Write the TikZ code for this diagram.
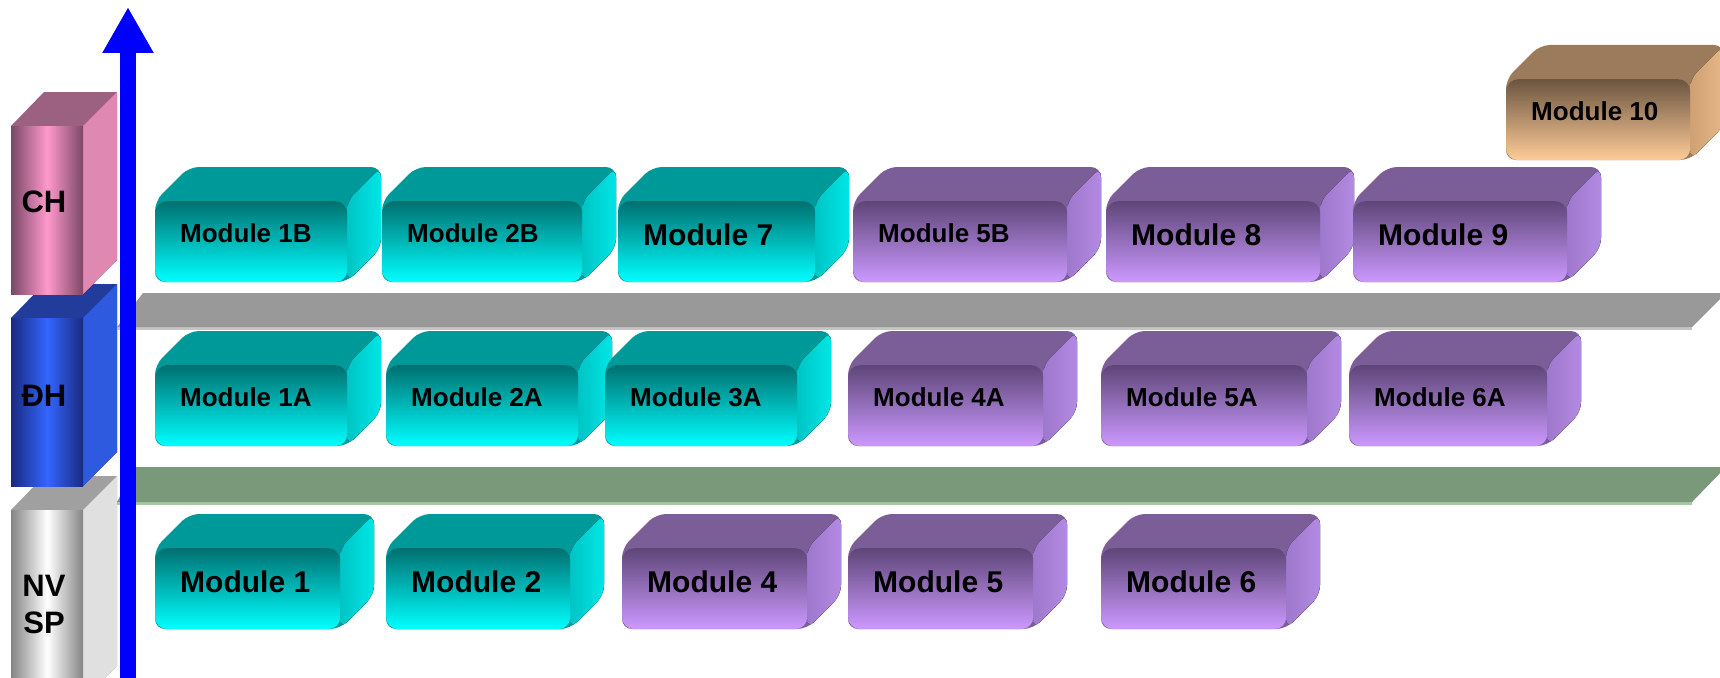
\documentclass[tikz,border=0pt]{standalone}
\usepackage{fontspec}
\setmainfont{Liberation Sans}
\usetikzlibrary{arrows.meta}

% module colours
\definecolor{tealtop}{HTML}{009999}
\definecolor{tealdark}{HTML}{007070}
\definecolor{tealbright}{HTML}{00FFFF}
\definecolor{tealsideA}{HTML}{00C4C4}
\definecolor{tealsideB}{HTML}{00E6E6}
\definecolor{purptop}{HTML}{7B5E98}
\definecolor{purpdark}{HTML}{5E4678}
\definecolor{purpbright}{HTML}{CC99FF}
\definecolor{purpsideA}{HTML}{9E78CC}
\definecolor{purpsideB}{HTML}{B38AE2}
\definecolor{tantop}{HTML}{9C7B5C}
\definecolor{tandark}{HTML}{6B5540}
\definecolor{tanbright}{HTML}{FFCC99}
\definecolor{tansideA}{HTML}{CFA072}
\definecolor{tansideB}{HTML}{E6B888}
% level bars
\definecolor{chtop}{HTML}{9C6080}
\definecolor{chside}{HTML}{DF88B2}
\definecolor{chedge}{HTML}{7A4866}
\definecolor{chmid}{HTML}{FF99CC}
\definecolor{dhtop}{HTML}{223C9C}
\definecolor{dhside}{HTML}{2E5AE0}
\definecolor{dhedge}{HTML}{1A2A80}
\definecolor{dhmid}{HTML}{3366FF}
\definecolor{nvtop}{HTML}{A0A0A0}
\definecolor{nvside}{HTML}{E0E0E0}
\definecolor{nvedge}{HTML}{858585}
\definecolor{nvmid}{HTML}{FFFFFF}
\definecolor{bandgrey}{HTML}{999999}
\definecolor{bandgreylt}{HTML}{C4C4C4}
\definecolor{bandgreen}{HTML}{7A987A}
\definecolor{bandgreenlt}{HTML}{A8C8A0}

\tikzset{
  modfront/.style={rounded corners=12pt, inner sep=0pt, anchor=north west, minimum height=81pt},
  modtxt/.style={font=\fontsize{26}{30}\selectfont\bfseries, inner sep=0pt, anchor=base west},
  modtxtbig/.style={modtxt, font=\fontsize{30}{34}\selectfont\bfseries, yshift=-3.5pt},
  lvlfront/.style={inner sep=0pt, anchor=north west, minimum width=72pt},
  lvltxt/.style={font=\fontsize{31}{37}\selectfont\bfseries, inner sep=0pt, align=center},
  axisarrow/.style={blue, line width=16pt, -{Triangle[length=46pt, width=48pt]}},
}

% 3D module block: name, x, y, width, colour, text, text style
\newcommand{\modbox}[7]{%
  \fill[#5top, rounded corners=10pt] (#2,#3) -- ++(34,-34) -- ++(#4,0) -- ++(0,81) -- ++(-34,34) -- ++(-#4,0) -- cycle;
  \fill[left color=#5sideA, right color=#5sideB, rounded corners=10pt] (#2+#4,#3) -- ++(34,-34) -- ++(0,81) -- ++(-34,34) -- cycle;
  \node[modfront, top color=#5dark, bottom color=#5bright, minimum width=#4] (#1) at (#2,#3) {};
  \node[#7] (#1t) at ([shift={(25pt,-41pt)}]#1.north west) {#6};
}

% level bar on the left: name, top, bottom, colour, text, text centre
\newcommand{\levelbar}[6]{%
  \fill[#4top] (11,#2) -- ++(33,-34) -- ++(73,0) -- (117,#3-34) -- (83,#3) -- (11,#3) -- cycle;
  \fill[#4side] (83,#2) -- ++(34,-34) -- (117,#3-34) -- (83,#3) -- cycle;
  \node[lvlfront, left color=#4edge, right color=#4edge, middle color=#4mid, minimum height=#3-#2] (#1) at (11,#2) {};
  \node[lvltxt] (#1t) at (44,#6) {#5};
}

\begin{document}
\begin{tikzpicture}[x=1pt, y=-1pt]
  \useasboundingbox (0,0) rectangle (1720,677);
  \clip (0,0) rectangle (1720,677);

  % levels
  \levelbar{nvsp}{510}{700}{nv}{NV\\SP}{604}
  \levelbar{dh}{318}{486}{dh}{ĐH}{396}
  \levelbar{ch}{126}{294}{ch}{CH}{202}

  % separating bands
  \fill[bandgreylt] (117,326) -- (1692,326) -- (1692,330) -- (117,330) -- cycle;
  \fill[bandgrey] (143,293) -- (1726,293) -- (1692,327) -- (117,327) -- cycle;
  \fill[bandgreenlt] (117,501) -- (1692,501) -- (1692,505) -- (117,505) -- cycle;
  \fill[bandgreen] (136,467) -- (1726,467) -- (1692,502) -- (117,502) -- cycle;

  % vertical axis
  \coordinate (axbase) at (128,680);
  \coordinate (axtip) at (128,7);
  \draw[axisarrow] (axbase) -- (axtip);

  % CH row
  \modbox{m10}{1506}{79}{184}{tan}{Module 10}{modtxt}
  \modbox{m1b}{155}{201}{192}{teal}{Module 1B}{modtxt}
  \modbox{m2b}{382}{201}{200}{teal}{Module 2B}{modtxt}
  \modbox{m7}{618}{201}{197}{teal}{Module 7}{modtxtbig}
  \modbox{m5b}{853}{201}{214}{purp}{Module 5B}{modtxt}
  \modbox{m8}{1106}{201}{214}{purp}{Module 8}{modtxtbig}
  \modbox{m9}{1353}{201}{214}{purp}{Module 9}{modtxtbig}

  % DH row
  \modbox{m1a}{155}{365}{192}{teal}{Module 1A}{modtxt}
  \modbox{m2a}{386}{365}{192}{teal}{Module 2A}{modtxt}
  \modbox{m3a}{605}{365}{192}{teal}{Module 3A}{modtxt}
  \modbox{m4a}{848}{365}{195}{purp}{Module 4A}{modtxt}
  \modbox{m5a}{1101}{365}{206}{purp}{Module 5A}{modtxt}
  \modbox{m6a}{1349}{365}{198}{purp}{Module 6A}{modtxt}

  % NVSP row
  \modbox{m1}{155}{548}{185}{teal}{Module 1}{modtxtbig}
  \modbox{m2}{386}{548}{184}{teal}{Module 2}{modtxtbig}
  \modbox{m4}{622}{548}{185}{purp}{Module 4}{modtxtbig}
  \modbox{m5}{848}{548}{185}{purp}{Module 5}{modtxtbig}
  \modbox{m6}{1101}{548}{185}{purp}{Module 6}{modtxtbig}
\end{tikzpicture}
\end{document}
